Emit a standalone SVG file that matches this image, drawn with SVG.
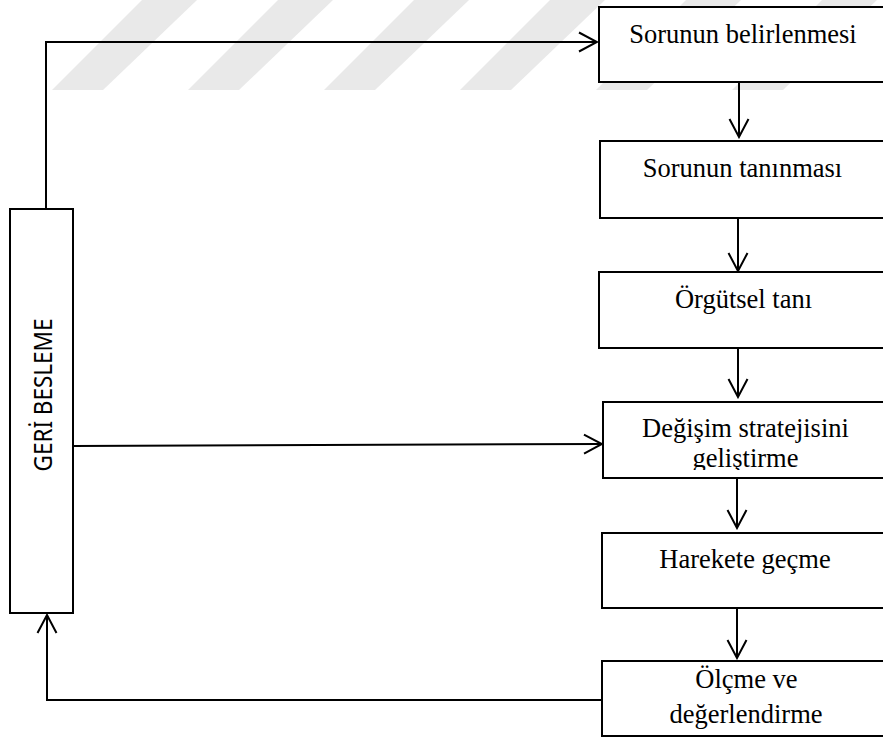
<svg xmlns="http://www.w3.org/2000/svg" width="883" height="738" viewBox="0 0 883 738">
  <style>
    .box { fill: #ffffff; stroke: #000000; stroke-width: 2; }
    .lbl { font-family: "Liberation Serif", "Times New Roman", serif; font-size: 26.5px; fill: #000000; text-anchor: middle; }
    .side { font-family: "Noto Sans", "Liberation Sans", sans-serif; font-size: 22.5px; fill: #000000; text-anchor: middle; }
    .wire { fill: none; stroke: #000000; stroke-width: 2; }
    .stripe { fill: #e9e9e9; }
  </style>
  <defs>
    <marker id="head" viewBox="-20 -11 22 22" markerWidth="22" markerHeight="22" refX="0" refY="0" orient="auto" markerUnits="userSpaceOnUse">
      <path d="M-18,-9.5 L0,0 L-18,9.5" fill="none" stroke="#000000" stroke-width="2"/>
    </marker>
    <clipPath id="clip-strategy">
      <rect x="600" y="400" width="290" height="70"/>
    </clipPath>
  </defs>

  <rect width="883" height="738" fill="#ffffff"/>

  <!-- light diagonal band pattern along the top edge -->
  <g id="bands">
    <polygon class="stripe" points="52,90 103,90 197,0 142,0"/>
    <polygon class="stripe" points="188,90 239,90 333,0 278,0"/>
    <polygon class="stripe" points="324,90 375,90 469,0 414,0"/>
    <polygon class="stripe" points="460,90 511,90 605,0 550,0"/>
    <polygon class="stripe" points="596,90 647,90 741,0 686,0"/>
    <polygon class="stripe" points="732,90 783,90 877,0 822,0"/>
  </g>

  <!-- connectors -->
  <g id="connectors">
    <path class="wire" d="M46,209 V42 H597" marker-end="url(#head)"/>
    <path class="wire" d="M73,446 L602,444" marker-end="url(#head)"/>
    <path class="wire" d="M602,700 H47 V615" marker-end="url(#head)"/>
    <path class="wire" d="M739,82 V137" marker-end="url(#head)"/>
    <path class="wire" d="M738,218 V271" marker-end="url(#head)"/>
    <path class="wire" d="M738,346 V397" marker-end="url(#head)"/>
    <path class="wire" d="M737,472 V528" marker-end="url(#head)"/>
    <path class="wire" d="M737,608 V658" marker-end="url(#head)"/>
  </g>

  <g id="feedback">
    <rect class="box" x="10" y="209" width="63" height="404"/>
    <text class="side" transform="translate(52,395) rotate(-90) scale(1,1.12)" x="0" y="0">GERİ BESLEME</text>
  </g>

  <g id="step-belirleme">
    <rect class="box" x="599" y="7" width="300" height="75"/>
    <text class="lbl" x="743" y="43">Sorunun belirlenmesi</text>
  </g>

  <g id="step-tanima">
    <rect class="box" x="600" y="141" width="300" height="77"/>
    <text class="lbl" x="742.5" y="177">Sorunun tanınması</text>
  </g>

  <g id="step-orgutsel">
    <rect class="box" x="599" y="272" width="300" height="76"/>
    <text class="lbl" x="743.5" y="308">Örgütsel tanı</text>
  </g>

  <g id="step-strateji">
    <rect class="box" x="603" y="402" width="300" height="76"/>
    <g clip-path="url(#clip-strategy)">
      <text class="lbl" x="745.5" y="437">Değişim stratejisini</text>
      <text class="lbl" x="745.5" y="467">geliştirme</text>
    </g>
  </g>

  <g id="step-harekete">
    <rect class="box" x="602" y="533" width="300" height="75"/>
    <text class="lbl" x="745" y="568">Harekete geçme</text>
  </g>

  <g id="step-olcme">
    <rect class="box" x="602" y="661" width="300" height="75"/>
    <text class="lbl" x="746.5" y="688">Ölçme ve</text>
    <text class="lbl" x="746" y="723">değerlendirme</text>
  </g>
</svg>
